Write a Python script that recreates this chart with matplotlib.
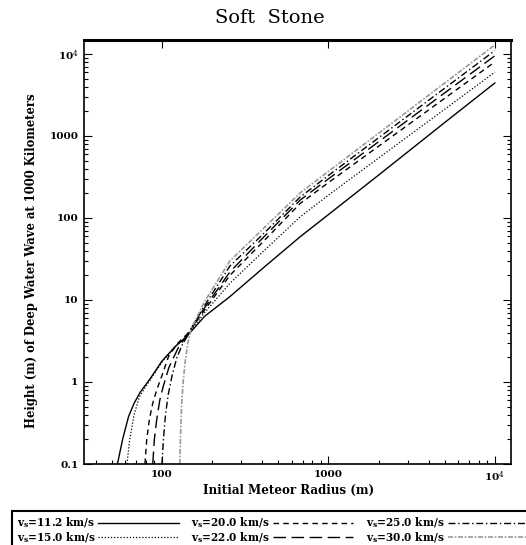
import numpy as np
import matplotlib
matplotlib.use("Agg")
import matplotlib.pyplot as plt
from matplotlib.ticker import LogLocator, NullFormatter, FixedLocator, FixedFormatter

plt.rcParams['font.family'] = 'DejaVu Serif'
plt.rcParams['mathtext.fontset'] = 'dejavuserif'

# Wave height curves for each entry velocity: (radius m, height m)
r_11 = [54, 58, 63, 68, 74, 85, 100, 120, 141, 180, 256, 400, 676, 1000, 2000, 5000, 10000]
h_11 = [0.1, 0.2, 0.38, 0.55, 0.75, 1.1, 1.8, 2.7, 3.6, 6.3, 11, 24, 59, 110, 333, 1460, 4430]

r_15 = [61.6, 64, 68, 73, 79, 86, 100, 120, 141, 180, 256, 400, 676, 1000, 10000]
h_15 = [0.1, 0.2, 0.4, 0.65, 0.85, 1.1, 1.75, 2.7, 3.6, 7.0, 16, 38, 103, 190, 6000]

r_20 = [79, 81, 84, 88, 93, 100, 110, 125, 141, 180, 256, 400, 676, 1000, 10000]
h_20 = [0.1, 0.2, 0.35, 0.55, 0.8, 1.2, 2.1, 3.0, 3.8, 7.5, 20, 50, 150, 270, 8000]

r_22 = [88, 90, 93, 97, 102, 110, 125, 141, 180, 256, 400, 676, 1000, 10000]
h_22 = [0.1, 0.2, 0.35, 0.6, 0.9, 1.5, 2.6, 3.7, 8.0, 22, 56, 165, 300, 9500]

r_25 = [100, 102, 105, 109, 115, 123, 133, 145, 180, 256, 400, 676, 1000, 10000]
h_25 = [0.1, 0.2, 0.4, 0.7, 1.2, 2.0, 2.9, 3.9, 8.5, 26, 62, 180, 330, 11000]

r_30 = [128, 129, 131, 134, 138, 143, 150, 180, 256, 400, 676, 1000, 10000]
h_30 = [0.1, 0.2, 0.5, 1.0, 1.8, 3.0, 4.5, 9.5, 30, 72, 202, 370, 12900]

labels = [r"v$_\mathbf{s}$=11.2 km/s", r"v$_\mathbf{s}$=15.0 km/s",
          r"v$_\mathbf{s}$=20.0 km/s", r"v$_\mathbf{s}$=22.0 km/s",
          r"v$_\mathbf{s}$=25.0 km/s", r"v$_\mathbf{s}$=30.0 km/s"]

xticks = [100, 1000, 10000]
xticklabels = ["100", "1000", r"10$^4$"]
yticks = [0.1, 1, 10, 100, 1000, 10000]
yticklabels = ["0.1", "1", "10", "100", "1000", r"10$^4$"]

fig = plt.figure(figsize=(5.26, 5.45), dpi=100)
ax = fig.add_axes([84/526, 1-464/545, (511-84)/526, (464-40)/545])

ax.plot(r_11, h_11, color='black', lw=1.0, ls='-', label=labels[0])
ax.plot(r_15, h_15, color='black', lw=0.9, ls=(0, (1, 1.5)), label=labels[1])
ax.plot(r_20, h_20, color='black', lw=1.0, ls=(0, (4, 3)), label=labels[2])
ax.plot(r_22, h_22, color='black', lw=1.0, ls=(0, (9, 4)), label=labels[3])
ax.plot(r_25, h_25, color='black', lw=1.0, ls=(0, (5, 2, 1, 2)), label=labels[4])
ax.plot(r_30, h_30, color='#999999', lw=1.2, ls=(0, (3, 1, 1, 1)), label=labels[5])

ax.set_xscale('log')
ax.set_yscale('log')
ax.set_xlim(34, 12500)
ax.set_ylim(0.1, 14800)

ax.xaxis.set_major_locator(FixedLocator(xticks))
ax.xaxis.set_major_formatter(FixedFormatter(xticklabels))
ax.yaxis.set_major_locator(FixedLocator(yticks))
ax.yaxis.set_major_formatter(FixedFormatter(yticklabels))
ax.xaxis.set_minor_locator(LogLocator(base=10, subs=np.arange(2, 10), numticks=20))
ax.yaxis.set_minor_locator(LogLocator(base=10, subs=np.arange(2, 10), numticks=20))
ax.xaxis.set_minor_formatter(NullFormatter())
ax.yaxis.set_minor_formatter(NullFormatter())

ax.tick_params(which='both', direction='in', top=True, right=True, width=0.8)
ax.tick_params(which='major', length=6, labelsize=7.5, pad=4)
ax.tick_params(which='minor', length=3)
ax.tick_params(axis='x', which='minor', top=False)
for lab in ax.get_xticklabels() + ax.get_yticklabels():
    lab.set_fontweight('bold')

for side in ['left', 'bottom', 'right']:
    ax.spines[side].set_linewidth(1.2)
ax.spines['top'].set_linewidth(2.2)

ax.set_xlabel("Initial Meteor Radius (m)", fontsize=8.6, fontweight='bold')
ax.set_ylabel("Height (m) of Deep Water Wave at 1000 Kilometers", fontsize=8.4,
              fontweight='bold')
ax.xaxis.set_label_coords(0.48, (464-484)/424)
ax.yaxis.set_label_coords((38-84)/427, (464-261)/424)
fig.text(270/526, 1-18/545, "Soft  Stone", ha='center', va='center', fontsize=14)

leg = fig.legend(loc='upper left', bbox_to_anchor=(12/526, 1-511/545), ncol=3,
                 markerfirst=False, handlelength=7.6, handletextpad=0.3,
                 columnspacing=1.2, labelspacing=0.0, borderpad=0.45,
                 borderaxespad=0, fancybox=False, framealpha=1, edgecolor='black',
                 prop={'family': 'DejaVu Serif', 'weight': 'bold', 'size': 7.6})
leg.get_frame().set_linewidth(1.5)

fig.savefig('out.png', dpi=100)
